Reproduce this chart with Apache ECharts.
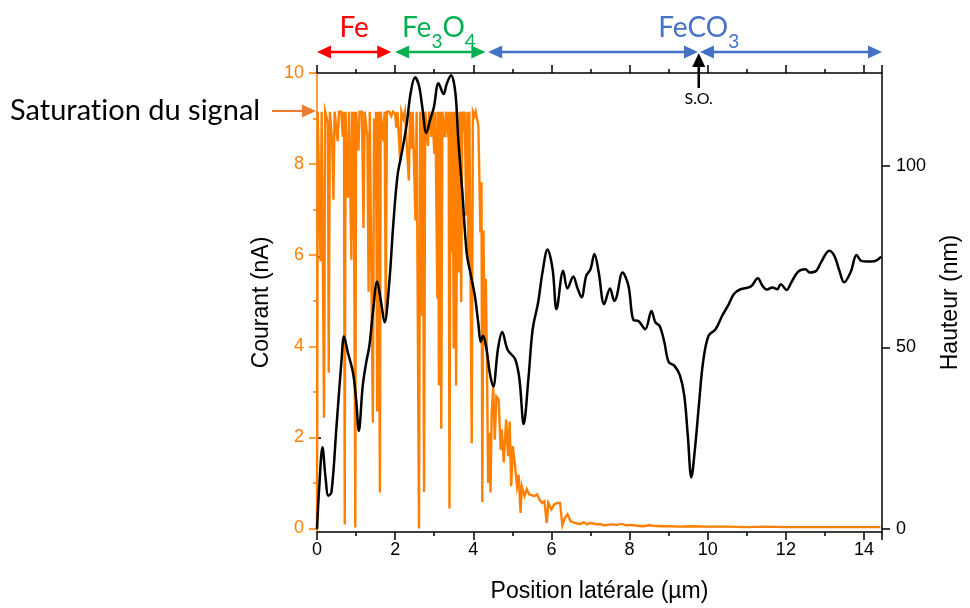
<!DOCTYPE html>
<html>
<head>
<meta charset="utf-8">
<script src="https://cdn.jsdelivr.net/npm/echarts@6/dist/echarts.min.js"></script>
<style>
  html, body { margin: 0; padding: 0; background: #fff; }
  #chart { width: 970px; height: 608px; }
</style>
</head>
<body>
<div id="chart"></div>
<script>
// Courant mesuré (nA) le long du profil, en fonction de la position (µm)
const courantX = [
  0.00, 0.02, 0.06, 0.09, 0.12, 0.15, 0.18, 0.21, 0.25, 0.28, 0.30, 0.33, 0.37, 0.39, 0.42, 0.45,
  0.50, 0.53, 0.56, 0.62, 0.66, 0.69, 0.71, 0.73, 0.76, 0.79, 0.82, 0.86, 0.88, 0.90, 0.92, 0.94,
  0.96, 0.98, 1.00, 1.04, 1.06, 1.09, 1.15, 1.19, 1.22, 1.26, 1.29, 1.32, 1.35, 1.39, 1.43, 1.46,
  1.49, 1.51, 1.54, 1.57, 1.59, 1.61, 1.63, 1.67, 1.70, 1.73, 1.76, 1.79, 1.85, 1.90, 1.95, 2.00,
  2.03, 2.06, 2.10, 2.13, 2.16, 2.21, 2.25, 2.30, 2.35, 2.38, 2.42, 2.45, 2.49, 2.52, 2.55, 2.58,
  2.61, 2.64, 2.66, 2.69, 2.71, 2.74, 2.77, 2.81, 2.84, 2.87, 2.90, 2.93, 2.96, 3.00, 3.03, 3.06,
  3.08, 3.10, 3.12, 3.15, 3.18, 3.21, 3.24, 3.27, 3.30, 3.35, 3.37, 3.39, 3.42, 3.45, 3.47, 3.50,
  3.53, 3.56, 3.59, 3.63, 3.66, 3.69, 3.72, 3.75, 3.78, 3.82, 3.85, 3.87, 3.90, 3.93, 3.96, 3.99,
  4.03, 4.06, 4.10, 4.13, 4.16, 4.18, 4.21, 4.23, 4.26, 4.29, 4.32, 4.35, 4.38, 4.41, 4.44, 4.47,
  4.51, 4.55, 4.59, 4.65, 4.70, 4.73, 4.78, 4.84, 4.89, 4.93, 4.97, 5.01, 5.06, 5.12, 5.16, 5.21,
  5.24, 5.31, 5.37, 5.43, 5.48, 5.56, 5.63, 5.69, 5.76, 5.82, 5.88, 5.92, 6.00, 6.07, 6.15, 6.22,
  6.28, 6.34, 6.41, 6.49, 6.58, 6.66, 6.75, 6.83, 6.91, 6.99, 7.08, 7.16, 7.25, 7.33, 7.45, 7.55,
  7.67, 7.80, 7.92, 8.05, 8.20, 8.34, 8.50, 8.60, 8.80, 9.00, 9.30, 9.60, 10.0, 10.5, 11.0, 11.5,
  12.0, 12.5, 13.0, 13.5, 14.0, 14.42
];
const courantNA = [
  0.00, 9.15, 9.15, 5.87, 9.15, 9.15, 2.43, 9.15, 9.15, 8.90, 3.42, 9.15, 9.15, 8.47, 7.22, 9.15,
  9.15, 8.50, 9.15, 9.15, 8.60, 9.15, 0.09, 9.15, 9.15, 7.26, 9.15, 9.15, 5.90, 9.15, 6.34, 9.15,
  9.15, 0.02, 9.15, 9.15, 8.30, 9.15, 9.15, 6.60, 9.15, 9.15, 8.60, 5.20, 9.15, 9.15, 2.32, 9.00,
  7.20, 9.15, 2.57, 9.15, 9.15, 0.79, 9.15, 9.15, 8.50, 9.15, 4.66, 9.15, 9.15, 9.05, 9.15, 9.10,
  8.80, 9.15, 9.15, 8.04, 9.15, 9.00, 9.15, 9.15, 7.64, 9.15, 8.34, 9.15, 9.15, 6.76, 9.15, 9.15,
  0.00, 9.15, 9.15, 4.67, 9.15, 0.80, 9.15, 9.15, 8.40, 9.15, 9.15, 8.60, 9.15, 8.23, 9.15, 9.15,
  5.05, 9.15, 3.14, 9.15, 2.19, 9.15, 9.15, 8.59, 9.15, 8.59, 9.15, 0.44, 9.15, 6.06, 9.15, 3.95,
  9.15, 3.14, 9.15, 5.62, 9.15, 4.97, 9.15, 8.92, 9.15, 6.87, 9.15, 5.84, 9.15, 9.15, 1.87, 9.15,
  9.06, 9.15, 9.15, 8.84, 7.50, 6.50, 7.60, 0.58, 6.54, 4.00, 5.48, 3.60, 1.00, 2.10, 0.79, 2.50,
  3.09, 1.95, 2.90, 2.83, 1.73, 2.17, 1.45, 2.39, 1.59, 2.35, 0.93, 1.81, 1.44, 0.93, 1.18, 0.34,
  0.93, 0.71, 0.86, 0.75, 0.79, 0.71, 0.75, 0.64, 0.56, 0.60, 0.12, 0.56, 0.42, 0.53, 0.56, 0.56,
  0.07, 0.23, 0.31, 0.16, 0.13, 0.11, 0.10, 0.14, 0.09, 0.12, 0.11, 0.09, 0.10, 0.07, 0.08, 0.09,
  0.08, 0.10, 0.07, 0.08, 0.06, 0.05, 0.07, 0.06, 0.05, 0.05, 0.04, 0.05, 0.04, 0.04, 0.03, 0.04,
  0.03, 0.03, 0.03, 0.03, 0.03, 0.03
];

// Profil de hauteur (nm) en fonction de la position (µm)
const hauteurX = [
  0.00, 0.06, 0.14, 0.22, 0.29, 0.37, 0.50, 0.63, 0.69, 0.79, 0.92, 1.00, 1.07, 1.17, 1.26, 1.34,
  1.43, 1.54, 1.64, 1.73, 1.85, 1.95, 2.06, 2.18, 2.29, 2.40, 2.51, 2.61, 2.69, 2.80, 2.90, 2.99,
  3.11, 3.24, 3.32, 3.43, 3.54, 3.62, 3.72, 3.83, 3.94, 4.04, 4.13, 4.19, 4.25, 4.34, 4.42, 4.51,
  4.63, 4.74, 4.88, 5.07, 5.18, 5.29, 5.41, 5.52, 5.66, 5.77, 5.90, 6.03, 6.13, 6.30, 6.41, 6.56,
  6.66, 6.77, 6.89, 7.00, 7.10, 7.21, 7.35, 7.50, 7.61, 7.67, 7.82, 7.97, 8.10, 8.22, 8.40, 8.56,
  8.66, 8.77, 8.89, 9.00, 9.15, 9.29, 9.40, 9.49, 9.58, 9.68, 9.78, 9.88, 10.02, 10.20, 10.37, 10.54,
  10.67, 10.84, 11.05, 11.13, 11.28, 11.40, 11.51, 11.65, 11.78, 11.87, 12.02, 12.14, 12.31, 12.50, 12.61, 12.78,
  12.90, 13.11, 13.24, 13.37, 13.49, 13.66, 13.81, 13.93, 14.09, 14.26, 14.44
];
const hauteurNM = [
  0.0, 12.0, 22.5, 14.0, 9.2, 10.1, 28.4, 46.8, 53.0, 48.6, 43.1, 35.8, 27.0, 39.4, 45.9, 50.4,
  59.6, 68.1, 62.4, 56.9, 67.9, 83.5, 97.2, 104.1, 111.0, 120.2, 124.3, 122.0, 116.5, 109.0, 112.8, 116.0,
  122.7, 119.7, 122.5, 124.9, 120.2, 106.4, 92.7, 76.1, 69.7, 64.2, 56.5, 51.5, 53.2, 49.5, 43.1, 39.2,
  49.5, 54.2, 49.3, 46.8, 41.3, 28.9, 41.3, 55.0, 62.4, 70.6, 76.9, 71.5, 60.5, 71.1, 66.2, 69.5,
  66.5, 63.8, 69.7, 71.5, 75.7, 70.6, 61.9, 66.2, 62.8, 64.0, 70.6, 67.0, 57.5, 57.3, 55.0, 60.0,
  56.9, 55.9, 51.4, 46.0, 44.9, 42.2, 36.7, 25.7, 14.2, 22.9, 34.9, 45.9, 53.2, 55.0, 58.7, 61.9,
  64.7, 66.0, 66.5, 67.0, 69.0, 67.0, 65.9, 66.5, 66.0, 67.4, 65.8, 67.9, 70.8, 71.5, 70.6, 71.1,
  73.4, 76.6, 75.2, 71.1, 67.9, 70.8, 75.4, 73.8, 73.6, 73.7, 75.0
];

// Graduations des axes
const courantTicks = [0, 2, 4, 6, 8, 10];
const courantMinorTicks = [1, 3, 5, 7, 9];
const hauteurTicks = [0, 50, 100];
const hauteurMinorTicks = [25, 75];

// Domaines de phases le long du profil (µm)
const phaseNames = [[['Fe', 0]], [['Fe', 0], ['3', 1], ['O', 0], ['4', 1]], [['FeCO', 0], ['3', 1]]];
const phaseColors = ['#FF0000', '#00B050', '#4472C4'];
const phaseLabelAt = [0.95, 3.12, 9.77];
const arrowFrom = [0.0, 2.0, 4.38, 9.8];
const arrowTo = [1.9, 4.31, 9.75, 14.46];
const arrowColors = ['#FF0000', '#00B050', '#4472C4', '#4472C4'];
const soPosition = 9.77;

const ORANGE = '#FF7F00';
const AXIS_FONT = 'Liberation Sans';
const NOTE_FONT = 'Lato';

const chart = echarts.init(document.getElementById('chart'), null, { renderer: 'canvas' });

const blackLine = { color: '#000', width: 1.5 };
const xAxisBase = {
  type: 'value', min: 0, max: 14.46, interval: 2,
  axisLine: { onZero: false, lineStyle: blackLine },
  axisTick: { length: 8, lineStyle: blackLine },
  minorTick: { show: true, splitNumber: 2, length: 4, lineStyle: blackLine },
  splitLine: { show: false }, minorSplitLine: { show: false }
};

chart.setOption({
  animation: false,
  grid: { left: 317, right: 83, top: 73, bottom: 75.5 },
  xAxis: [
    Object.assign({}, xAxisBase, {
      position: 'bottom',
      axisLabel: { color: '#000', fontSize: 18, fontFamily: AXIS_FONT, margin: 9 },
      name: 'Position latérale (µm)', nameLocation: 'middle', nameGap: 48,
      nameTextStyle: { color: '#000', fontSize: 23, fontFamily: AXIS_FONT }
    }),
    Object.assign({}, xAxisBase, { position: 'top', axisLabel: { show: false } })
  ],
  yAxis: [
    {
      type: 'value', position: 'left', min: -0.077, max: 10,
      axisLine: { show: true, onZero: false, lineStyle: { color: ORANGE, width: 1.5 } },
      axisTick: { show: true, length: 8, customValues: courantTicks, lineStyle: { color: ORANGE, width: 1.5 } },
      axisLabel: { customValues: courantTicks, color: ORANGE, fontSize: 18, fontFamily: AXIS_FONT, margin: 13 },
      splitLine: { show: false },
      name: 'Courant (nA)', nameLocation: 'middle', nameGap: 37,
      nameTextStyle: { color: '#000', fontSize: 23, fontFamily: AXIS_FONT }
    },
    {
      type: 'value', position: 'right', min: -0.8, max: 125.5,
      axisLine: { show: true, onZero: false, lineStyle: blackLine },
      axisTick: { show: true, length: 8, customValues: hauteurTicks, lineStyle: blackLine },
      axisLabel: { customValues: hauteurTicks, color: '#000', fontSize: 18, fontFamily: AXIS_FONT, margin: 14 },
      splitLine: { show: false },
      name: 'Hauteur (nm)', nameLocation: 'middle', nameGap: 57,
      nameTextStyle: { color: '#000', fontSize: 23, fontFamily: AXIS_FONT }
    },
    {
      type: 'value', position: 'left', min: -0.077, max: 10,
      axisLine: { show: false },
      axisTick: { show: true, length: 4, customValues: courantMinorTicks, lineStyle: { color: ORANGE, width: 1.5 } },
      axisLabel: { show: false }, splitLine: { show: false }
    },
    {
      type: 'value', position: 'right', min: -0.8, max: 125.5,
      axisLine: { show: false },
      axisTick: { show: true, length: 4, customValues: hauteurMinorTicks, lineStyle: blackLine },
      axisLabel: { show: false }, splitLine: { show: false }
    }
  ],
  series: [
    {
      name: 'Courant', type: 'line', xAxisIndex: 0, yAxisIndex: 0,
      data: courantX.map((x, i) => [x, courantNA[i]]),
      symbol: 'none', lineStyle: { color: ORANGE, width: 2.4, join: 'miter' }, z: 2
    },
    {
      name: 'Hauteur', type: 'line', xAxisIndex: 0, yAxisIndex: 1,
      data: hauteurX.map((x, i) => [x, hauteurNM[i]]),
      symbol: 'none', smooth: 0.35, lineStyle: { color: '#000', width: 2.5 }, z: 3
    }
  ]
});

// Annotations au-dessus du graphique
const measureCtx = document.createElement('canvas').getContext('2d');
function textWidth(str, size, family) {
  measureCtx.font = size + 'px ' + family;
  return measureCtx.measureText(str).width;
}
const px = v => chart.convertToPixel({ xAxisIndex: 0 }, v);

function arrowHead(tipX, tipY, dx, dy, len, half, color) {
  // dx, dy: unit direction of the arrow
  const bx = tipX - dx * len, by = tipY - dy * len;
  return {
    type: 'polygon',
    shape: { points: [[tipX, tipY], [bx - dy * half, by + dx * half], [bx + dy * half, by - dx * half]] },
    style: { fill: color }, silent: true
  };
}

function doubleArrow(x1, x2, y, color) {
  return [
    { type: 'line', shape: { x1: x1 + 8, y1: y, x2: x2 - 8, y2: y }, style: { stroke: color, lineWidth: 2.5 }, silent: true },
    arrowHead(x1, y, -1, 0, 14, 6.5, color),
    arrowHead(x2, y, 1, 0, 14, 6.5, color)
  ];
}

function formula(parts, cx, baseY, color) {
  const big = 28, small = 19;
  const widths = parts.map(p => textWidth(p[0], p[1] ? small : big, NOTE_FONT));
  const total = widths.reduce((a, b) => a + b, 0);
  let x = cx - total / 2;
  return parts.map((p, i) => {
    const el = {
      type: 'text', silent: true,
      style: {
        text: p[0], x: x, y: p[1] ? baseY + 9 : baseY,
        fill: color, font: (p[1] ? small : big) + 'px ' + NOTE_FONT,
        textAlign: 'left', textVerticalAlign: 'bottom'
      }
    };
    x += widths[i];
    return el;
  });
}

const elements = [];
arrowFrom.forEach((a, i) => {
  elements.push(...doubleArrow(px(arrowFrom[i]), px(arrowTo[i]), 52, arrowColors[i]));
});
phaseNames.forEach((parts, i) => {
  elements.push(...formula(parts, px(phaseLabelAt[i]), 42, phaseColors[i]));
});

// Repère S.O.
const soX = px(soPosition);
elements.push({ type: 'line', shape: { x1: soX, y1: 88, x2: soX, y2: 64 }, style: { stroke: '#000', lineWidth: 2.5 }, silent: true });
elements.push(arrowHead(soX, 53, 0, -1, 14, 6.5, '#000'));
elements.push({
  type: 'text', silent: true,
  style: { text: 'S.O.', x: soX, y: 99, fill: '#000', font: '16px ' + NOTE_FONT, textAlign: 'center', textVerticalAlign: 'middle' }
});

// Saturation du signal (ZWNJ évite la ligature « ti » de la police)
elements.push({
  type: 'text', silent: true,
  style: { text: 'Saturat\u200Cion du signal', x: 10, y: 111, fill: '#000', font: '29px ' + NOTE_FONT, textAlign: 'left', textVerticalAlign: 'middle' }
});
elements.push({ type: 'line', shape: { x1: 272, y1: 111, x2: 304, y2: 111 }, style: { stroke: '#ED7D31', lineWidth: 2 }, silent: true });
elements.push(arrowHead(316, 111, 1, 0, 14, 6.5, '#ED7D31'));

chart.setOption({ graphic: { elements: elements } });
</script>
</body>
</html>
